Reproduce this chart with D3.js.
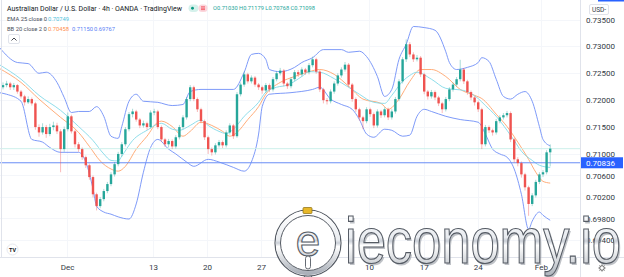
<!DOCTYPE html>
<html><head><meta charset="utf-8">
<script src="https://cdn.jsdelivr.net/npm/d3@7"></script>
<style>html,body{margin:0;padding:0;background:#fff;overflow:hidden}svg{display:block;font-family:Roboto,"Liberation Sans",Arial,sans-serif}</style>
</head><body><svg id="c" width="624" height="277"></svg>
<script>
// ---------- DATA ----------
const firstOpen = 0.7224;
const closes = [
0.7228,0.7231,0.7224,0.7228,0.7216,0.7207,0.7196,0.7202,0.7194,0.7150,
0.7140,0.7150,0.7137,0.7150,0.7153,0.7142,0.7109,0.7146,0.7170,0.7142,
0.7118,0.7109,0.7094,0.7079,0.7057,0.7025,0.7003,0.7016,0.7031,0.7044,
0.7062,0.7081,0.7100,0.7118,0.7146,0.7174,0.7179,0.7164,0.7153,0.7157,
0.7150,0.7177,0.7179,0.7150,0.7127,0.7118,0.7124,0.7114,0.7131,0.7150,
0.7168,0.7202,0.7224,0.7202,0.7183,0.7161,0.7131,0.7109,0.7103,0.7116,
0.7122,0.7116,0.7140,0.7153,0.7133,0.7211,0.7229,0.7248,0.7235,0.7242,
0.7229,0.7224,0.7218,0.7228,0.7220,0.7239,0.7250,0.7255,0.7231,0.7226,
0.7239,0.7252,0.7248,0.7257,0.7252,0.7265,0.7276,0.7253,0.7220,0.7200,
0.7198,0.7216,0.7231,0.7246,0.7257,0.7266,0.7229,0.7202,0.7183,0.7168,
0.7161,0.7183,0.7174,0.7153,0.7179,0.7172,0.7183,0.7168,0.7179,0.7202,
0.7235,0.7276,0.7304,0.7285,0.7276,0.7279,0.7248,0.7216,0.7207,0.7215,
0.7205,0.7194,0.7183,0.7202,0.7220,0.7229,0.7239,0.7257,0.7235,0.7215,
0.7205,0.7196,0.7183,0.7118,0.7150,0.7144,0.7140,0.7161,0.7168,0.7172,
0.7176,0.7127,0.7090,0.7083,0.7062,0.7038,0.7007,0.7023,0.7048,0.7062,
0.7066,0.7103,0.71098];
const highs = [
0.7233,0.7236,0.7234,0.7232,0.7230,0.7219,0.7210,0.7207,0.7205,0.7197,
0.7155,0.7157,0.7154,0.7156,0.7160,0.7158,0.7146,0.7151,0.7177,0.7173,
0.7145,0.7122,0.7112,0.7097,0.7082,0.7060,0.7028,0.7020,0.7035,0.7048,
0.7066,0.7085,0.7104,0.7122,0.7150,0.7178,0.7184,0.7182,0.7167,0.7162,
0.7160,0.7181,0.7184,0.7182,0.7153,0.7130,0.7128,0.7127,0.7135,0.7154,
0.7172,0.7206,0.7228,0.7227,0.7205,0.7186,0.7164,0.7134,0.7112,0.7120,
0.7126,0.7125,0.7144,0.7157,0.7156,0.7215,0.7233,0.7253,0.7251,0.7246,
0.7245,0.7232,0.7227,0.7232,0.7231,0.7243,0.7254,0.7260,0.7258,0.7234,
0.7243,0.7256,0.7256,0.7261,0.7260,0.7269,0.7281,0.7279,0.7256,0.7223,
0.7204,0.7220,0.7235,0.7250,0.7261,0.7271,0.7269,0.7232,0.7205,0.7186,
0.7171,0.7187,0.7186,0.7177,0.7183,0.7182,0.7187,0.7186,0.7183,0.7206,
0.7239,0.7280,0.7313,0.7308,0.7289,0.7284,0.7282,0.7251,0.7219,0.7219,
0.7218,0.7208,0.7197,0.7206,0.7224,0.7233,0.7243,0.7275,0.7260,0.7238,
0.7218,0.7208,0.7199,0.7186,0.7154,0.7153,0.7147,0.7165,0.7172,0.7176,
0.7180,0.7179,0.7130,0.7094,0.7086,0.7065,0.7041,0.7027,0.7052,0.7066,
0.7070,0.7107,0.71179];
const lows = [
0.7220,0.7224,0.7219,0.7219,0.7212,0.7203,0.7190,0.7193,0.7190,0.7145,
0.7132,0.7136,0.7130,0.7133,0.7144,0.7137,0.7066,0.7104,0.7142,0.7138,
0.7112,0.7104,0.7089,0.7074,0.7052,0.7019,0.6995,0.6999,0.7012,0.7027,
0.7040,0.7058,0.7077,0.7095,0.7114,0.7142,0.7168,0.7160,0.7148,0.7149,
0.7145,0.7147,0.7172,0.7146,0.7122,0.7113,0.7112,0.7109,0.7110,0.7127,
0.7146,0.7164,0.7198,0.7198,0.7178,0.7157,0.7126,0.7100,0.7097,0.7099,
0.7112,0.7111,0.7112,0.7136,0.7128,0.7130,0.7207,0.7225,0.7231,0.7231,
0.7225,0.7219,0.7212,0.7214,0.7215,0.7216,0.7235,0.7246,0.7226,0.7221,
0.7222,0.7235,0.7243,0.7244,0.7247,0.7248,0.7261,0.7249,0.7215,0.7194,
0.7192,0.7194,0.7212,0.7227,0.7242,0.7253,0.7224,0.7197,0.7178,0.7162,
0.7146,0.7157,0.7169,0.7148,0.7149,0.7167,0.7168,0.7163,0.7164,0.7175,
0.7198,0.7231,0.7271,0.7280,0.7271,0.7272,0.7243,0.7211,0.7201,0.7203,
0.7200,0.7189,0.7176,0.7179,0.7198,0.7216,0.7225,0.7235,0.7230,0.7210,
0.7200,0.7190,0.7178,0.7109,0.7114,0.7139,0.7134,0.7136,0.7157,0.7164,
0.7168,0.7122,0.7084,0.7077,0.7056,0.7032,0.6985,0.7003,0.7019,0.7044,
0.7057,0.7062,0.70768];

// indicator readings [bar index, price]
const bbUpper = [[-1,0.7298],[4,0.7270],[7,0.7268],[10,0.7250],[12,0.7252],[15,0.7233],[17,0.7205],[19,0.7177],[21,0.7179],[24,0.7179],[26,0.7188],[28,0.7170],[30,0.7133],[32,0.7129],[33,0.7151],[35,0.7198],[37,0.7211],[39,0.7198],[43,0.7196],[47,0.7190],[50,0.7192],[52,0.7216],[55,0.7220],[60,0.7220],[64,0.7220],[67,0.7252],[69,0.7285],[71,0.7287],[73,0.7276],[74,0.7257],[77,0.7253],[81,0.7261],[83,0.7270],[86,0.7279],[89,0.7294],[94,0.7294],[96,0.7289],[99,0.7291],[101,0.7281],[104,0.7244],[106,0.7207],[108,0.7220],[110,0.7276],[112,0.7304],[114,0.7337],[117,0.7335],[120,0.7330],[123,0.7290],[124,0.7270],[126,0.7257],[129,0.7261],[132,0.7270],[133,0.7279],[135,0.7272],[137,0.7239],[139,0.7207],[141,0.7202],[143,0.7211],[145,0.7216],[147,0.7198],[149,0.7151],[150,0.7127],[152,0.71150]];
const bbLower = [[-1,0.7214],[1,0.7211],[5,0.7198],[8,0.7127],[11,0.7122],[13,0.7112],[16,0.7103],[21,0.7103],[23,0.7085],[25,0.7035],[26,0.7003],[28,0.6992],[30,0.6988],[32,0.6983],[35,0.6979],[37,0.7007],[39,0.7066],[41,0.7112],[43,0.7127],[46,0.7109],[48,0.7100],[51,0.7085],[53,0.7077],[57,0.7090],[60,0.7085],[64,0.7075],[67,0.7068],[69,0.7085],[71,0.7137],[72,0.7188],[74,0.7211],[80,0.7214],[86,0.7220],[88,0.7224],[91,0.7202],[94,0.7192],[97,0.7183],[99,0.7164],[101,0.7137],[103,0.7131],[106,0.7146],[108,0.7144],[111,0.7133],[113,0.7135],[115,0.7170],[117,0.7183],[119,0.7179],[123,0.7170],[127,0.7164],[132,0.7159],[134,0.7137],[136,0.7109],[138,0.7100],[140,0.7094],[142,0.7072],[144,0.7025],[146,0.6960],[147,0.6975],[149,0.6992],[150,0.6986],[152,0.69767]];
const bbBasis = [[-1,0.7259],[5,0.7233],[10,0.7202],[16,0.7168],[21,0.7140],[24,0.7114],[27,0.7087],[30,0.7072],[32,0.7068],[34,0.7077],[37,0.7109],[40,0.7133],[43,0.7159],[44,0.7161],[47,0.7151],[50,0.7133],[52,0.7142],[55,0.7159],[58,0.7153],[61,0.7142],[63,0.7133],[65,0.7140],[68,0.7164],[71,0.7188],[73,0.7211],[77,0.7233],[81,0.7244],[85,0.7253],[88,0.7257],[92,0.7248],[96,0.7226],[100,0.7202],[105,0.7194],[107,0.7183],[110,0.7202],[113,0.7235],[116,0.7257],[119,0.7257],[123,0.7244],[127,0.7220],[131,0.7209],[133,0.7203],[137,0.7174],[140,0.7151],[143,0.7122],[146,0.7090],[148,0.7066],[150,0.7049],[152,0.70458]];
const ema25 = [[-1,0.7266],[5,0.7239],[10,0.7209],[16,0.7181],[21,0.7151],[25,0.7125],[28,0.7100],[30,0.7088],[32,0.7087],[33,0.7096],[36,0.7125],[40,0.7144],[44,0.7157],[47,0.7146],[49,0.7144],[52,0.7153],[55,0.7163],[57,0.7153],[60,0.7142],[62,0.7138],[64,0.7146],[67,0.7170],[71,0.7196],[73,0.7215],[76,0.7224],[79,0.7228],[83,0.7244],[85,0.7253],[88,0.7252],[92,0.7240],[96,0.7224],[99,0.7211],[103,0.7196],[106,0.7194],[108,0.7209],[111,0.7235],[113,0.7246],[115,0.7252],[119,0.7239],[123,0.7222],[128,0.7218],[132,0.7203],[134,0.7190],[137,0.7170],[140,0.7144],[142,0.7125],[144,0.7105],[147,0.7088],[149,0.7079],[152,0.70749]];

const priceTicks = [0.735,0.730,0.725,0.720,0.715,0.710,0.706,0.702,0.698,0.694];
const timeLabels = ["Dec","13","20","27","10","17","24","Feb"];
const timeBars = [17.8,41.7,56.7,71.7,101.7,116.9,131.9,149.4];
const markedLevel = 0.70836;
const titleText = "Australian Dollar / U.S. Dollar · 4h · OANDA · TradingView";
const ohlcText = "O0.71030  H0.71179  L0.70768  C0.71098";
const emaLegend = ["EMA 25 close 0", "0.70749"];
const bbLegend = ["BB 20 close 2 0", "0.70458", "0.71150", "0.69767"];

// ---------- DRAW ----------
const svg = d3.select("#c");
const W = 624, H = 277, plotR = 580, plotB = 257;
const x = d3.scaleLinear().domain([0, 152]).range([3, 550.2]);
const y = d3.scaleLinear().domain([0.694, 0.735]).range([240, 19.5]);
const UP = "#26a69a", DN = "#ef5350";

const defs = svg.append("defs");
defs.append("clipPath").attr("id","plot").append("rect").attr("x",0).attr("y",0).attr("width",plotR).attr("height",plotB);
const g1 = defs.append("linearGradient").attr("id","chrome").attr("x1",0).attr("y1",0).attr("x2",0).attr("y2",1);
[[0,"#ffffff"],[0.45,"#e9ecf0"],[0.5,"#c9ced6"],[0.56,"#ffffff"],[1,"#aab0b9"]].forEach(s=>g1.append("stop").attr("offset",s[0]).attr("stop-color",s[1]));

svg.append("rect").attr("width",W).attr("height",H).attr("fill","#fff");

// grid
const grid = svg.append("g").attr("clip-path","url(#plot)");
grid.selectAll(".hg").data(priceTicks).join("line")
  .attr("x1",0).attr("x2",plotR).attr("y1",d=>Math.round(y(d))+0.5).attr("y2",d=>Math.round(y(d))+0.5)
  .attr("stroke","#f4f6fa");
grid.selectAll(".vg").data(timeBars).join("line")
  .attr("y1",0).attr("y2",plotB).attr("x1",d=>Math.round(x(d))+0.5).attr("x2",d=>Math.round(x(d))+0.5)
  .attr("stroke","#f4f6fa");

const plot = svg.append("g").attr("clip-path","url(#plot)");

// indicator lines
const line = d3.line().x(d=>x(d[0])).y(d=>y(d[1])).curve(d3.curveMonotoneX);
plot.append("path").datum(bbUpper).attr("d",line).attr("fill","none").attr("stroke","#6f8ff7").attr("stroke-width",0.9);
plot.append("path").datum(bbLower).attr("d",line).attr("fill","none").attr("stroke","#6f8ff7").attr("stroke-width",0.9);
plot.append("path").datum(bbBasis).attr("d",line).attr("fill","none").attr("stroke","#ffa46b").attr("stroke-width",0.9);
plot.append("path").datum(ema25).attr("d",line).attr("fill","none").attr("stroke","#82d9e8").attr("stroke-width",0.9);

// last price line and marked level
const lastClose = closes[closes.length-1];
plot.append("line").attr("x1",0).attr("x2",plotR).attr("y1",y(lastClose)).attr("y2",y(lastClose))
  .attr("stroke","#cdf0eb").attr("stroke-width",1);
plot.append("line").attr("x1",0).attr("x2",plotR).attr("y1",y(markedLevel)).attr("y2",y(markedLevel))
  .attr("stroke","#6a8df6").attr("stroke-width",1);

// candles
const candles = closes.map((c,i)=>({i, o: i===0?firstOpen:closes[i-1], c, h: highs[i], l: lows[i]}));
const cg = plot.append("g");
cg.selectAll(".wick").data(candles).join("line")
  .attr("x1",d=>x(d.i)).attr("x2",d=>x(d.i)).attr("y1",d=>y(d.h)).attr("y2",d=>y(d.l))
  .attr("stroke",d=>d.c>=d.o?UP:DN).attr("stroke-opacity",0.4).attr("stroke-width",1);
cg.selectAll(".body").data(candles).join("rect")
  .attr("x",d=>x(d.i)-1.2).attr("width",2.4)
  .attr("y",d=>y(Math.max(d.o,d.c))).attr("height",d=>Math.max(1,Math.abs(y(d.o)-y(d.c))))
  .attr("fill",d=>d.c>=d.o?UP:DN);

// borders
svg.append("line").attr("x1",plotR+0.5).attr("x2",plotR+0.5).attr("y1",0).attr("y2",H).attr("stroke","#e0e3eb");
svg.append("line").attr("x1",0).attr("x2",W).attr("y1",plotB+0.5).attr("y2",plotB+0.5).attr("stroke","#e0e3eb");
svg.append("line").attr("x1",1.5).attr("x2",1.5).attr("y1",0).attr("y2",plotB).attr("stroke","#e0e3eb");
svg.append("rect").attr("x",598).attr("y",0).attr("width",26).attr("height",1.5).attr("fill","#2962ff");

// price axis
const yAxis = d3.axisRight(y).tickValues(priceTicks).tickFormat(d3.format(".5f")).tickSize(0).tickPadding(5);
const ya = svg.append("g").attr("transform",`translate(${plotR+1},0)`).call(yAxis);
ya.select(".domain").remove();
ya.selectAll("text").attr("font-size",8).attr("fill","#333a45").attr("font-family","Roboto, Arial, sans-serif");

// USD label
svg.append("rect").attr("x",589.5).attr("y",4.5).attr("width",19).attr("height",10).attr("rx",1.5).attr("fill","#fff").attr("stroke","#e0e3eb");
svg.append("text").attr("x",599).attr("y",12).attr("text-anchor","middle").attr("font-size",6.5).attr("fill","#333a45").text("USD-");

// marked level label
svg.append("rect").attr("x",plotR+1).attr("y",y(markedLevel)-5.5).attr("width",42).attr("height",11).attr("fill","#2962ff");
svg.append("text").attr("x",586).attr("y",y(markedLevel)+3).attr("font-size",8).attr("fill","#fff").text(d3.format(".5f")(markedLevel));

// gear icon
const gear = svg.append("g").attr("transform","translate(602,268)");
gear.append("circle").attr("r",2.3).attr("fill","none").attr("stroke","#555").attr("stroke-width",0.9);
d3.range(8).forEach(k=>{const a=k*Math.PI/4;gear.append("line").attr("x1",2.6*Math.cos(a)).attr("y1",2.6*Math.sin(a)).attr("x2",3.5*Math.cos(a)).attr("y2",3.5*Math.sin(a)).attr("stroke","#555").attr("stroke-width",0.9);});

// TV logo
svg.append("circle").attr("cx",12.5).attr("cy",249.5).attr("r",5.5).attr("fill","#fff").attr("stroke","#e6e8ee");
svg.append("text").attr("x",12.5).attr("y",251.5).attr("text-anchor","middle").attr("font-size",5.5).attr("font-weight","bold").attr("fill","#131722").text("TV");

// legend
svg.append("text").attr("x",7).attr("y",10.6).attr("font-size",6.7).attr("fill","#131722")
  .attr("textLength",175).attr("lengthAdjust","spacingAndGlyphs").text(titleText);
svg.append("rect").attr("x",188.5).attr("y",4.5).attr("width",10).attr("height",7.5).attr("rx",3.7).attr("fill","#d5f1eb");
svg.append("circle").attr("cx",192.5).attr("cy",8.25).attr("r",1.4).attr("fill","#089981");
svg.append("rect").attr("x",198.5).attr("y",4.5).attr("width",9).attr("height",7.5).attr("rx",3.5).attr("fill","#fbd6dc");
[6.8,8.2,9.6].forEach(yy=>svg.append("line").attr("x1",201).attr("x2",205).attr("y1",yy).attr("y2",yy).attr("stroke","#f23645").attr("stroke-width",0.7));
svg.append("text").attr("x",213).attr("y",10.4).attr("font-size",5.6).attr("fill","#26a69a")
  .attr("textLength",102).attr("lengthAdjust","spacingAndGlyphs").text(ohlcText);

svg.append("text").attr("x",7).attr("y",21).attr("font-size",5.8).attr("fill","#4a4f5a").text(emaLegend[0]);
svg.append("text").attr("x",48).attr("y",21).attr("font-size",5.8).attr("fill","#4fc3dc").text(emaLegend[1]);
svg.append("text").attr("x",7).attr("y",31.3).attr("font-size",5.8).attr("fill","#4a4f5a").text(bbLegend[0]);
svg.append("text").attr("x",48).attr("y",31.3).attr("font-size",5.8).attr("fill","#ff8f4d").text(bbLegend[1]);
svg.append("text").attr("x",72).attr("y",31.3).attr("font-size",5.8).attr("fill","#5b7ff5").text(bbLegend[2]);
svg.append("text").attr("x",94).attr("y",31.3).attr("font-size",5.8).attr("fill","#5b7ff5").text(bbLegend[3]);
svg.append("rect").attr("x",8.5).attr("y",34.5).attr("width",11).attr("height",9).attr("rx",1.5).attr("fill","#fff").attr("stroke","#e0e3eb");
svg.append("path").attr("d","M11.5,40.5 L14,38 L16.5,40.5").attr("fill","none").attr("stroke","#131722").attr("stroke-width",0.8);

// watermark
const wm = svg.append("g");
wm.append("text").attr("x",346.5).attr("y",264.5).attr("font-size",64).attr("font-family","Liberation Sans, Arial, sans-serif")
  .attr("textLength",276).attr("lengthAdjust","spacingAndGlyphs").attr("fill","#8b919a").attr("opacity",0.55).text("ieconomy.io");
wm.append("text").attr("x",345).attr("y",263).attr("font-size",64).attr("font-family","Liberation Sans, Arial, sans-serif")
  .attr("textLength",276).attr("lengthAdjust","spacingAndGlyphs").attr("fill","url(#chrome)").attr("stroke","#555b64").attr("stroke-width",1.2).text("ieconomy.io");
// emblem
wm.append("rect").attr("x",304).attr("y",257).attr("width",8).attr("height",22).attr("rx",3.5).attr("fill","url(#chrome)").attr("stroke","#555b64").attr("stroke-width",1);
wm.append("circle").attr("cx",308).attr("cy",243).attr("r",33).attr("fill","#fff").attr("stroke","#555b64").attr("stroke-width",1.2);
wm.append("circle").attr("cx",308).attr("cy",243).attr("r",30).attr("fill","none").attr("stroke","url(#chrome)").attr("stroke-width",4.5);
wm.append("circle").attr("cx",308).attr("cy",243).attr("r",27.5).attr("fill","#fff").attr("stroke","#555b64").attr("stroke-width",1);
wm.append("text").attr("x",308).attr("y",256).attr("text-anchor","middle").attr("font-size",44).attr("font-family","Liberation Sans, Arial, sans-serif")
  .attr("fill","url(#chrome)").attr("stroke","#555b64").attr("stroke-width",1.1).text("e");
wm.append("rect").attr("x",305.5).attr("y",256).attr("width",5).attr("height",13).attr("rx",2.5).attr("fill","#fff").attr("stroke","#555b64").attr("stroke-width",0.9);
wm.append("rect").attr("x",303).attr("y",207.5).attr("width",9).attr("height",6).attr("rx",1).attr("fill","#e8b828").attr("stroke","#8a6d10").attr("stroke-width",0.7);

// time axis (drawn above the watermark so its labels stay readable)
const xAxis = d3.axisBottom(x).tickValues(timeBars).tickFormat((d,i)=>timeLabels[i]).tickSize(0).tickPadding(7);
const xa = svg.append("g").attr("transform",`translate(0,${plotB})`).call(xAxis);
xa.select(".domain").remove();
xa.selectAll("text").attr("font-size",8).attr("fill","#333a45").attr("font-family","Roboto, Arial, sans-serif");
</script></body></html>
